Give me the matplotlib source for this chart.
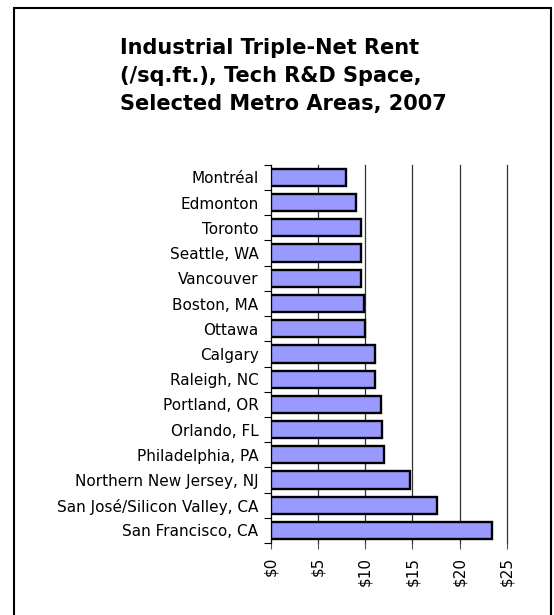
import numpy as np
import matplotlib.pyplot as plt
import matplotlib.patches as patches

cities = ["Montréal", "Edmonton", "Toronto", "Seattle, WA", "Vancouver",
          "Boston, MA", "Ottawa", "Calgary", "Raleigh, NC", "Portland, OR",
          "Orlando, FL", "Philadelphia, PA", "Northern New Jersey, NJ",
          "San José/Silicon Valley, CA", "San Francisco, CA"]
rent = [8.0, 9.0, 9.5, 9.5, 9.5, 9.85, 10.0, 11.0, 11.0, 11.7, 11.75, 12.0,
        14.7, 17.6, 23.4]
xticks = [0, 5, 10, 15, 20, 25]
xlabels = ["$0", "$5", "$10", "$15", "$20", "$25"]

fig = plt.figure(figsize=(5.54, 6.15), dpi=100)
ax = fig.add_axes([0.489, 0.117, 0.4257, 0.615])

y = np.arange(len(cities))
ax.barh(y, rent, height=0.68, color='#9999ff', edgecolor='black',
        linewidth=1.7, zorder=3)
ax.set_ylim(len(cities) - 0.5, -0.5)
ax.set_xlim(0, 25)

ax.set_yticks(y)
ax.set_yticklabels(cities, fontsize=11)
ax.set_yticks(np.arange(-0.5, len(cities), 1), minor=True)
ax.tick_params(axis='y', which='major', length=0, pad=9)
ax.tick_params(axis='y', which='minor', length=5, width=0.8, direction='out')

ax.set_xticks(xticks)
ax.set_xticklabels(xlabels, rotation=90, fontsize=11)
ax.tick_params(axis='x', length=4, width=0.8, color='#555555', pad=6)

for v in xticks[1:]:
    ax.axvline(v, color='#333333', linewidth=0.9, zorder=1, clip_on=False)

for s in ['top', 'right', 'bottom']:
    ax.spines[s].set_visible(False)
ax.spines['left'].set_linewidth(0.9)

fig.text(120 / 554, 1 - 76 / 615,
         "Industrial Triple-Net Rent\n(/sq.ft.), Tech R&D Space,\nSelected Metro Areas, 2007",
         ha='left', va='center', fontsize=15, fontweight='bold',
         linespacing=1.5)

fig.patches.append(patches.Rectangle((14 / 554, -0.1), (551 - 14) / 554, 1.1 - 8 / 615,
                                     transform=fig.transFigure, fill=False,
                                     edgecolor='black', linewidth=1.5))

fig.savefig("out.png", dpi=100)
